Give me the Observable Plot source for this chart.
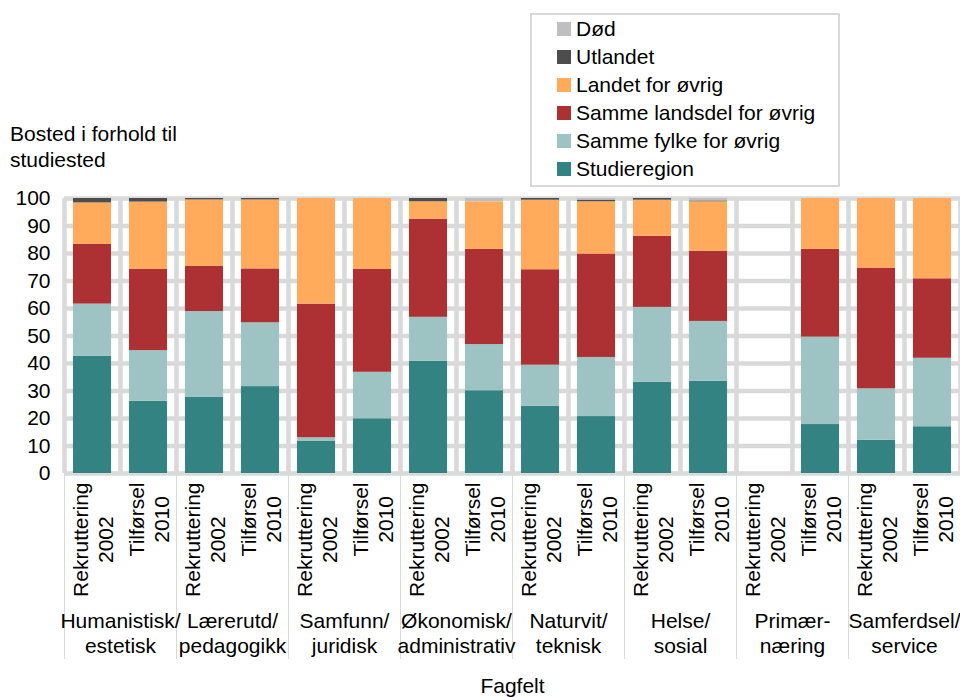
<!DOCTYPE html>
<html>
<head>
<meta charset="utf-8">
<script src="https://cdn.jsdelivr.net/npm/d3@7"></script>
<script src="https://cdn.jsdelivr.net/npm/@observablehq/plot@0.6"></script>
<style>
  html, body { margin: 0; padding: 0; background: #fff; }
  #wrap { position: relative; width: 960px; height: 697px; font-family: "Liberation Sans", Arial, Helvetica, sans-serif; color: #000; }
  #wrap svg { position: absolute; left: 0; top: 0; }
  #ylabel { position: absolute; left: 10px; top: 121px; font-size: 21px; line-height: 26px; }
  #legend { position: absolute; left: 530px; top: 13px; width: 310px; height: 174px; box-sizing: border-box; border: 2px solid #d9d9d9; background: #fff; }
  #legend .rows { position: absolute; left: 25px; top: 0px; }
  #legend .row { height: 28px; display: flex; align-items: center; font-size: 21px; white-space: nowrap; }
  #legend .sw { width: 14px; height: 14px; margin-right: 5px; flex: none; }
</style>
</head>
<body>
<div id="wrap"></div>
<script>
// ---- data ----
const groups = ["Humanistisk/\nestetisk", "Lærerutd/\npedagogikk", "Samfunn/\njuridisk", "Økonomisk/\nadministrativ", "Naturvit/\nteknisk", "Helse/\nsosial", "Primær-\nnæring", "Samferdsel/\nservice"];
const barLabels = ["Rekruttering\n2002", "Tilførsel\n2010"];
const seriesNames = ["Studieregion", "Samme fylke for øvrig", "Samme landsdel for øvrig", "Landet for øvrig", "Utlandet", "Død"];
const seriesColors = ["#348383", "#9dc3c2", "#ad3133", "#ffab5b", "#4d4d4d", "#bfbfbf"];

const studieregion   = [42.7, 26.3, 27.8, 31.6, 11.8, 19.9, 40.8, 30.1, 24.5, 20.7, 33.2, 33.5, null, 17.8, 12.1, 17.0];
const sammeFylke     = [18.9, 18.4, 31.1, 23.2,  1.2, 16.9, 16.0, 16.8, 14.9, 21.5, 27.2, 21.8, null, 31.8, 18.7, 24.9];
const sammeLandsdel  = [21.7, 29.5, 16.4, 19.6, 48.6, 37.4, 35.7, 34.6, 34.7, 37.6, 25.9, 25.5, null, 31.9, 43.9, 28.9];
const landetForOvrig = [15.1, 24.5, 24.2, 25.1, 38.4, 25.8,  6.3, 17.3, 25.3, 19.0, 13.1, 18.0, null, 18.5, 25.3, 29.2];
const utlandet       = [ 1.6,  1.3,  0.5,  0.5,  0.0,  0.0,  1.2,  0.0,  0.6,  0.6,  0.6,  0.3, null,  0.0,  0.0,  0.0];
const dod            = [ 0.0,  0.0,  0.0,  0.0,  0.0,  0.0,  0.0,  1.2,  0.0,  0.6,  0.0,  0.9, null,  0.0,  0.0,  0.0];
const seriesValues = [studieregion, sammeFylke, sammeLandsdel, landetForOvrig, utlandet, dod];

const yTicks = d3.range(0, 101, 10);

// ---- derived tables ----
const bars = [];
groups.forEach((g, gi) => barLabels.forEach((b, bi) => bars.push({i: gi * 2 + bi, group: g, label: b})));
const segs = [];
bars.forEach(bar => {
  let acc = 0;
  seriesNames.forEach((s, si) => {
    const v = seriesValues[si][bar.i];
    if (v == null || v === 0) return;
    segs.push({i: bar.i, series: s, y1: acc, y2: acc + v});
    acc += v;
  });
});

const FS = 21;
const FONT = '"Liberation Sans", Arial, Helvetica, sans-serif';
const ctx = document.createElement("canvas").getContext("2d");
ctx.font = `${FS}px ${FONT}`;
const blockLen = s => d3.max(s.split("\n"), l => ctx.measureText(l).width);

const grid = {stroke: "#d9d9d9", strokeOpacity: 1, strokeWidth: 4.5};

const chart = Plot.plot({
  width: 960,
  height: 697,
  marginLeft: 64,
  marginRight: 0,
  marginTop: 198,
  marginBottom: 224,
  style: {fontFamily: FONT, fontSize: FS + "px", color: "#000", background: "transparent", overflow: "visible"},
  x: {domain: [0, bars.length]},
  y: {domain: [0, 100]},
  color: {domain: seriesNames, range: seriesColors},
  marks: [
    Plot.gridY(yTicks, grid),
    Plot.gridX(d3.range(0, bars.length + 1), grid),
    Plot.rect(segs, {x1: d => d.i + 0.16, x2: d => d.i + 0.84, y1: "y1", y2: "y2", fill: "series"}),
    Plot.axisY(yTicks, {tickSize: 0, tickPadding: 14, label: null, fontSize: FS}),
    Plot.axisX(d3.range(0, bars.length + 1, 2), {tickSize: 186, tickFormat: () => "", stroke: "#d9d9d9", label: null}),
    ...barLabels.map(bl => Plot.text(bars.filter(b => b.label === bl), {
      x: d => d.i + 0.5, text: "label", frameAnchor: "bottom", rotate: -90,
      textAnchor: "middle", lineAnchor: "middle", lineHeight: 1.2,
      dy: 9 + blockLen(bl) / 2, fontSize: FS
    })),
    Plot.text(groups, {x: (d, k) => k * 2 + 1, text: d => d, frameAnchor: "bottom", lineAnchor: "middle", lineHeight: 1.2, dy: 159, fontSize: FS}),
    Plot.text(["Fagfelt"], {text: d => d, frameAnchor: "bottom", lineAnchor: "middle", dy: 213, fontSize: FS})
  ]
});

const wrap = document.getElementById("wrap");
wrap.appendChild(chart);

const yl = document.createElement("div");
yl.id = "ylabel";
yl.innerHTML = "Bosted i forhold til<br>studiested";
wrap.appendChild(yl);

const leg = document.createElement("div");
leg.id = "legend";
const rows = document.createElement("div");
rows.className = "rows";
seriesNames.map((s, k) => ({s, c: seriesColors[k]})).reverse().forEach(({s, c}) => {
  const r = document.createElement("div");
  r.className = "row";
  const sw = document.createElement("span");
  sw.className = "sw";
  sw.style.background = c;
  const t = document.createElement("span");
  t.textContent = s;
  r.appendChild(sw); r.appendChild(t);
  rows.appendChild(r);
});
leg.appendChild(rows);
wrap.appendChild(leg);
</script>
</body>
</html>
